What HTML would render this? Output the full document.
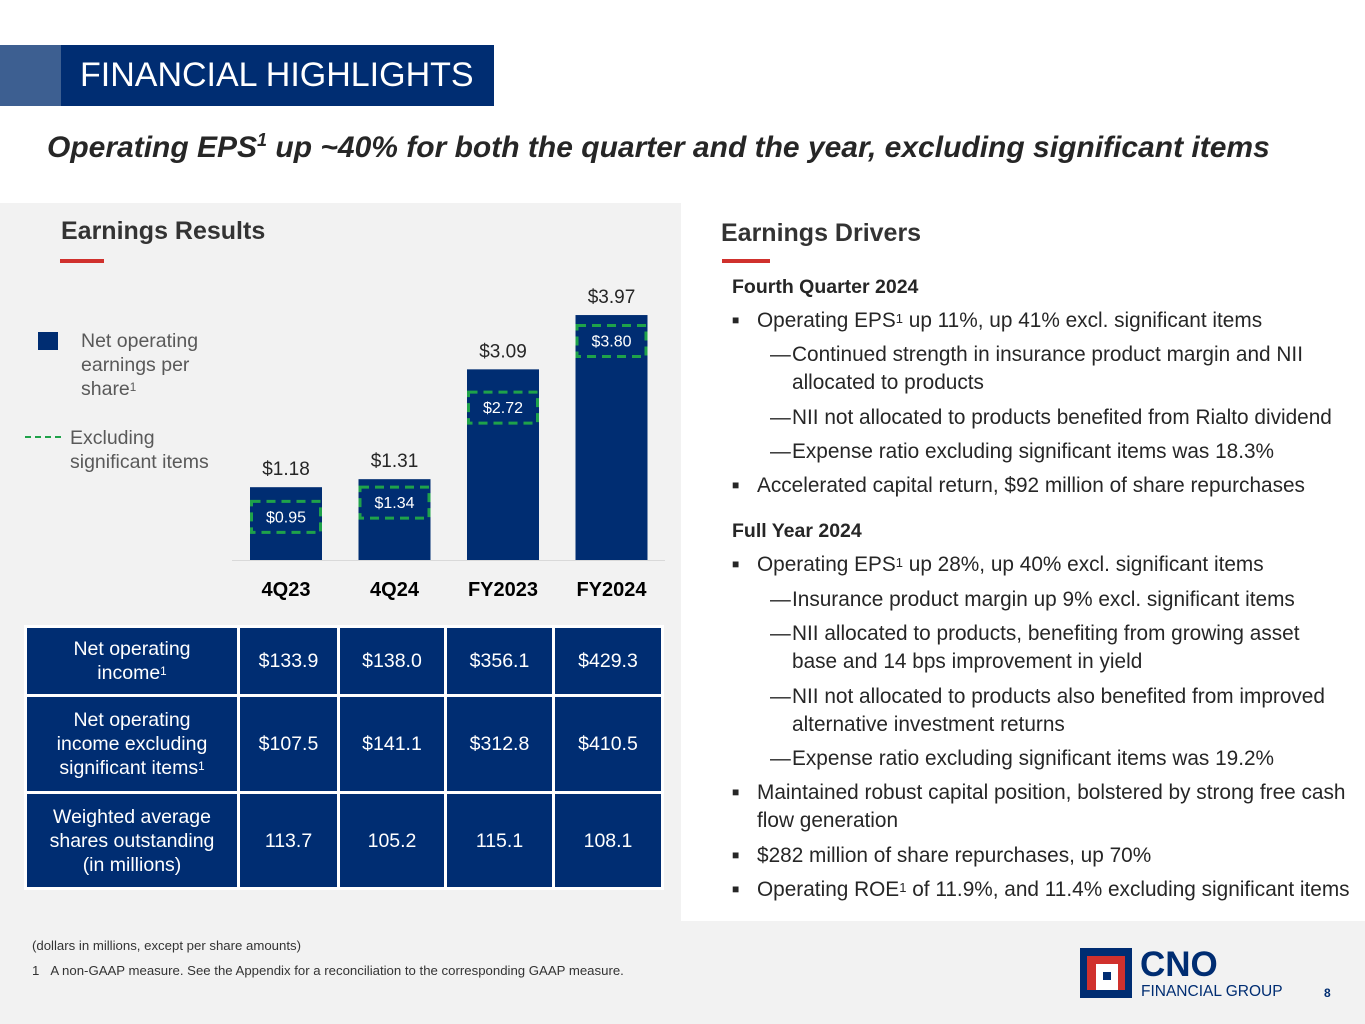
<!DOCTYPE html>
<html><head><meta charset="utf-8">
<style>
*{margin:0;padding:0;box-sizing:border-box}
body{width:1365px;height:1024px;position:relative;overflow:hidden;background:#f2f2f2;font-family:"Liberation Sans",Arial,sans-serif;color:#262626}
.abs{position:absolute}
.ln{position:absolute;font-size:20.8px;line-height:24px;white-space:nowrap;color:#262626}
sup{font-size:60%;vertical-align:top;position:relative;top:-1px}
.ln sup{font-size:13px;top:-2px}
td{border:3px solid #fff;color:#fff;background:#002d72;text-align:center;font-size:19.5px;line-height:24px}
</style></head><body>
<div class="abs" style="left:0;top:0;width:1365px;height:203px;background:#fff"></div>
<div class="abs" style="left:681px;top:203px;width:684px;height:718px;background:#fff"></div>
<div class="abs" style="left:0;top:45px;width:61px;height:61px;background:#3d5f91"></div>
<div class="abs" style="left:61px;top:45px;width:433px;height:61px;background:#002d72;color:#fff;font-size:34px;line-height:61px;padding-left:19px;white-space:nowrap">FINANCIAL HIGHLIGHTS</div>
<div class="abs" style="left:47px;top:131px;font-size:30px;font-weight:bold;font-style:italic;color:#262626;white-space:nowrap">Operating EPS<sup>1</sup> up ~40% for both the quarter and the year, excluding significant items</div>

<div class="abs" style="left:61px;top:217px;font-size:25px;font-weight:bold;color:#333">Earnings Results</div>
<div class="abs" style="left:60px;top:259px;width:44px;height:4px;background:#d0312d"></div>
<div class="abs" style="left:721px;top:219px;font-size:25px;font-weight:bold;color:#333">Earnings Drivers</div>
<div class="abs" style="left:722px;top:259px;width:48px;height:4px;background:#d0312d"></div>

<div class="abs" style="left:38px;top:332px;width:20px;height:18px;background:#002d72"></div>
<div class="abs" style="left:81px;top:329px;font-size:19.5px;line-height:24px;color:#595959">Net operating<br>earnings per<br>share<sup>1</sup></div>
<div class="abs" style="left:25px;top:436px;width:36px;border-top:2px dashed #1fa24a"></div>
<div class="abs" style="left:70px;top:426px;font-size:19.5px;line-height:24px;color:#595959">Excluding<br>significant items</div>

<svg class="abs" id="chart" style="left:0;top:0" width="681" height="620"></svg>

<table class="abs" style="left:24px;top:625px;width:637px;height:265px;border-collapse:collapse;table-layout:fixed">
<colgroup><col style="width:213px"><col style="width:100px"><col style="width:107px"><col style="width:108px"><col style="width:109px"></colgroup>
<tr style="height:69px"><td>Net operating<br>income<sup>1</sup></td><td>$133.9</td><td>$138.0</td><td>$356.1</td><td>$429.3</td></tr>
<tr style="height:97px"><td>Net operating<br>income excluding<br>significant items<sup>1</sup></td><td>$107.5</td><td>$141.1</td><td>$312.8</td><td>$410.5</td></tr>
<tr><td>Weighted average<br>shares outstanding<br>(in millions)</td><td>113.7</td><td>105.2</td><td>115.1</td><td>108.1</td></tr>
</table>

<div class="abs" style="left:32px;top:938px;font-size:13.2px;color:#333">(dollars in millions, except per share amounts)</div>
<div class="abs" style="left:32px;top:963px;font-size:13.2px;color:#333">1&nbsp;&nbsp;&nbsp;A non-GAAP measure. See the Appendix for a reconciliation to the corresponding GAAP measure.</div>

<div id="drivers">
<div class="ln" style="left:732px;top:275px;font-weight:bold;font-size:19.5px">Fourth Quarter 2024</div>
<div class="ln" style="left:732px;top:309px"><span style="font-size:12px;position:relative;top:-3px">■</span></div><div class="ln" style="left:757px;top:309px">Operating EPS<sup>1</sup> up 11%, up 41% excl. significant items</div>
<div class="ln" style="left:770px;top:343px">—</div><div class="ln" style="left:792px;top:343px">Continued strength in insurance product margin and NII</div>
<div class="ln" style="left:792px;top:371px">allocated to products</div>
<div class="ln" style="left:770px;top:406px">—</div><div class="ln" style="left:792px;top:406px">NII not allocated to products benefited from Rialto dividend</div>
<div class="ln" style="left:770px;top:440px">—</div><div class="ln" style="left:792px;top:440px">Expense ratio excluding significant items was 18.3%</div>
<div class="ln" style="left:732px;top:474px"><span style="font-size:12px;position:relative;top:-3px">■</span></div><div class="ln" style="left:757px;top:474px">Accelerated capital return, $92 million of share repurchases</div>
<div class="ln" style="left:732px;top:519px;font-weight:bold;font-size:19.5px">Full Year 2024</div>
<div class="ln" style="left:732px;top:553px"><span style="font-size:12px;position:relative;top:-3px">■</span></div><div class="ln" style="left:757px;top:553px">Operating EPS<sup>1</sup> up 28%, up 40% excl. significant items</div>
<div class="ln" style="left:770px;top:588px">—</div><div class="ln" style="left:792px;top:588px">Insurance product margin up 9% excl. significant items</div>
<div class="ln" style="left:770px;top:622px">—</div><div class="ln" style="left:792px;top:622px">NII allocated to products, benefiting from growing asset</div>
<div class="ln" style="left:792px;top:650px">base and 14 bps improvement in yield</div>
<div class="ln" style="left:770px;top:685px">—</div><div class="ln" style="left:792px;top:685px">NII not allocated to products also benefited from improved</div>
<div class="ln" style="left:792px;top:713px">alternative investment returns</div>
<div class="ln" style="left:770px;top:747px">—</div><div class="ln" style="left:792px;top:747px">Expense ratio excluding significant items was 19.2%</div>
<div class="ln" style="left:732px;top:781px"><span style="font-size:12px;position:relative;top:-3px">■</span></div><div class="ln" style="left:757px;top:781px">Maintained robust capital position, bolstered by strong free cash</div>
<div class="ln" style="left:757px;top:809px">flow generation</div>
<div class="ln" style="left:732px;top:844px"><span style="font-size:12px;position:relative;top:-3px">■</span></div><div class="ln" style="left:757px;top:844px">$282 million of share repurchases, up 70%</div>
<div class="ln" style="left:732px;top:878px"><span style="font-size:12px;position:relative;top:-3px">■</span></div><div class="ln" style="left:757px;top:878px">Operating ROE<sup>1</sup> of 11.9%, and 11.4% excluding significant items</div>
</div>

<div class="abs" style="left:1080px;top:948px;width:52px;height:50px;background:#002d72">
 <div class="abs" style="left:7px;top:8px;width:38px;height:34px;background:#d0312d"></div>
 <div class="abs" style="left:16px;top:16px;width:22px;height:26px;background:#fff"></div>
 <div class="abs" style="left:23px;top:24px;width:8px;height:8px;background:#002d72"></div>
</div>
<div class="abs" style="left:1140px;top:947px;font-size:35px;font-weight:bold;color:#002d72;line-height:36px">CNO</div>
<div class="abs" style="left:1141px;top:984px;font-size:15.5px;color:#002d72;line-height:16px">FINANCIAL GROUP</div>
<div class="abs" style="left:1324px;top:986px;font-size:12px;font-weight:bold;color:#002d72">8</div>

<script>
const categories = ["4Q23","4Q24","FY2023","FY2024"];
const epsValues = [1.18,1.31,3.09,3.97];
const exclValues = [0.95,1.34,2.72,3.80];
const epsLabels = ["$1.18","$1.31","$3.09","$3.97"];
const exclLabels = ["$0.95","$1.34","$2.72","$3.80"];

const svg = document.getElementById('chart');
const NS = 'http://www.w3.org/2000/svg';
const baseY = 560, pxPerUnit = 61.7, x0 = 250, step = 108.5, barW = 72;
function yScale(v){ return baseY - v * pxPerUnit; }
function xScale(i){ return x0 + i * step; }
function mk(tag, attrs, text){
  const e = document.createElementNS(NS, tag);
  for (const k in attrs) e.setAttribute(k, attrs[k]);
  if (text !== undefined) e.textContent = text;
  svg.appendChild(e);
  return e;
}
const axis = mk('line',{x1:232,x2:665,y1:baseY+0.5,y2:baseY+0.5,stroke:'#d9d9d9','stroke-width':1});


categories.forEach((c, i) => {
  const x = xScale(i), top = yScale(epsValues[i]);
  const bar = mk('rect',{x:x,y:top,width:barW,height:baseY-top,fill:'#002d72'});
  
  
  const lbl = mk('text',{x:x+barW/2,y:top-12,'text-anchor':'middle','font-size':19,fill:'#262626','font-family':'Liberation Sans'}, epsLabels[i]);
  
  
  const bt = Math.max(yScale(exclValues[i]), top + 8);
  const box = mk('rect',{x:x+1.5,y:bt,width:barW-3,height:31,fill:'none',stroke:'#1fa24a','stroke-width':3,'stroke-dasharray':'9 6'});
  
  
  const el = mk('text',{x:x+barW/2,y:bt+21,'text-anchor':'middle','font-size':16,fill:'#fff','font-family':'Liberation Sans'}, exclLabels[i]);
  
  
  const cat = mk('text',{x:x+barW/2,y:596,'text-anchor':'middle','font-size':20,'font-weight':'bold',fill:'#000','font-family':'Liberation Sans'}, c);
  
  
});
</script>
</body></html>
